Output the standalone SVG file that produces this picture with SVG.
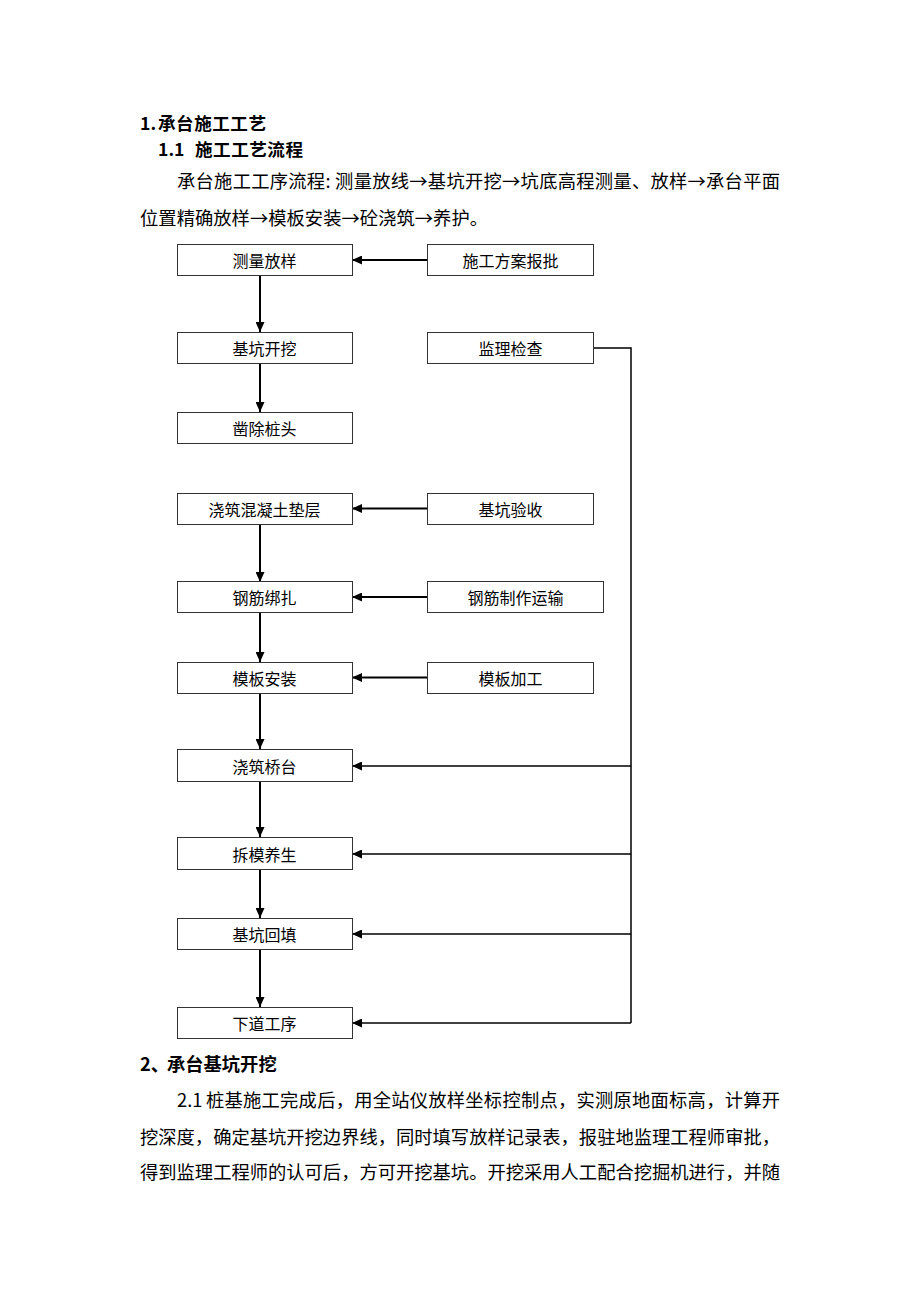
<svg xmlns="http://www.w3.org/2000/svg" width="920" height="1302" viewBox="0 0 920 1302">
<style>
.t{font-family:"Noto Sans CJK SC","Liberation Sans",sans-serif;font-size:18.3px;fill:#000}
.h{font-weight:bold}
.hs{font-size:17.6px}
.box{fill:#fff;stroke:#333;stroke-width:1}
.bt{font-family:"Noto Sans CJK SC","Liberation Sans",sans-serif;font-size:16px;fill:#000;text-anchor:middle;dominant-baseline:central}
.ln{fill:none;stroke:#000;stroke-width:2}
.lt{fill:none;stroke:#000;stroke-width:1.5}
</style>
<defs>
<marker id="ah" markerUnits="userSpaceOnUse" markerWidth="10" markerHeight="9" refX="10" refY="4.5" orient="auto">
<path d="M0,0 L10,4.5 L0,9 z" fill="#000"/>
</marker>
</defs>
<rect width="920" height="1302" fill="#fff"/>
<g id="text">
<text class="t h hs" y="130"><tspan x="140">1.</tspan><tspan x="158" textLength="108" lengthAdjust="spacing">承台施工工艺</tspan></text>
<text class="t h hs" y="156"><tspan x="158">1.1</tspan><tspan x="195" textLength="108" lengthAdjust="spacing">施工工艺流程</tspan></text>
<text class="t" x="177" y="188" textLength="603" lengthAdjust="spacing">承台施工工序流程: 测量放线→基坑开挖→坑底高程测量、放样→承台平面</text>
<text class="t" x="140" y="225" textLength="348" lengthAdjust="spacing">位置精确放样→模板安装→砼浇筑→养护。</text>
<text class="t h" y="1071"><tspan x="140">2、</tspan><tspan x="167">承台基坑开挖</tspan></text>
<text class="t" y="1107"><tspan x="177">2.1</tspan><tspan x="206" textLength="574" lengthAdjust="spacing">桩基施工完成后，用全站仪放样坐标控制点，实测原地面标高，计算开</tspan></text>
<text class="t" x="140" y="1144" textLength="640" lengthAdjust="spacing">挖深度，确定基坑开挖边界线，同时填写放样记录表，报驻地监理工程师审批，</text>
<text class="t" x="140" y="1179" textLength="640" lengthAdjust="spacing">得到监理工程师的认可后，方可开挖基坑。开挖采用人工配合挖掘机进行，并随</text>
</g>
<g id="connectors">
<line class="ln" x1="260" y1="275" x2="260" y2="332" marker-end="url(#ah)"/>
<line class="ln" x1="260" y1="363" x2="260" y2="412" marker-end="url(#ah)"/>
<line class="ln" x1="260" y1="524" x2="260" y2="582" marker-end="url(#ah)"/>
<line class="ln" x1="260" y1="612" x2="260" y2="662" marker-end="url(#ah)"/>
<line class="ln" x1="260" y1="693" x2="260" y2="749" marker-end="url(#ah)"/>
<line class="ln" x1="260" y1="782" x2="260" y2="837" marker-end="url(#ah)"/>
<line class="ln" x1="260" y1="869" x2="260" y2="918" marker-end="url(#ah)"/>
<line class="ln" x1="260" y1="949" x2="260" y2="1007" marker-end="url(#ah)"/>
<line class="ln" x1="427" y1="260" x2="352" y2="260" marker-end="url(#ah)"/>
<line class="ln" x1="427" y1="508.5" x2="352" y2="508.5" marker-end="url(#ah)"/>
<line class="ln" x1="427" y1="597" x2="352" y2="597" marker-end="url(#ah)"/>
<line class="ln" x1="427" y1="677.5" x2="352" y2="677.5" marker-end="url(#ah)"/>
<polyline class="lt" points="593,348 631,348 631,1023"/>
<line class="lt" x1="631" y1="766" x2="352" y2="766" marker-end="url(#ah)"/>
<line class="lt" x1="631" y1="854" x2="352" y2="854" marker-end="url(#ah)"/>
<line class="lt" x1="631" y1="934" x2="352" y2="934" marker-end="url(#ah)"/>
<line class="lt" x1="631" y1="1023" x2="352" y2="1023" marker-end="url(#ah)"/>
</g>
<g id="n1"><rect class="box" x="177.5" y="244.5" width="175" height="31"/><text class="bt" x="264.5" y="260">测量放样</text></g>
<g id="n2"><rect class="box" x="427.5" y="244.5" width="166" height="31"/><text class="bt" x="510.5" y="260">施工方案报批</text></g>
<g id="n3"><rect class="box" x="177.5" y="332.5" width="175" height="31"/><text class="bt" x="264.5" y="348">基坑开挖</text></g>
<g id="n4"><rect class="box" x="427.5" y="332.5" width="166" height="31"/><text class="bt" x="510.5" y="348">监理检查</text></g>
<g id="n5"><rect class="box" x="177.5" y="412.5" width="175" height="31"/><text class="bt" x="264.5" y="428">凿除桩头</text></g>
<g id="n6"><rect class="box" x="177.5" y="493.5" width="175" height="31"/><text class="bt" x="264.5" y="509">浇筑混凝土垫层</text></g>
<g id="n7"><rect class="box" x="427.5" y="493.5" width="166" height="31"/><text class="bt" x="510.5" y="509">基坑验收</text></g>
<g id="n8"><rect class="box" x="177.5" y="581.5" width="175" height="31"/><text class="bt" x="264.5" y="597">钢筋绑扎</text></g>
<g id="n9"><rect class="box" x="427.5" y="581.5" width="176" height="31"/><text class="bt" x="515.5" y="597">钢筋制作运输</text></g>
<g id="n10"><rect class="box" x="177.5" y="662.5" width="175" height="31"/><text class="bt" x="264.5" y="678">模板安装</text></g>
<g id="n11"><rect class="box" x="427.5" y="662.5" width="166" height="31"/><text class="bt" x="510.5" y="678">模板加工</text></g>
<g id="n12"><rect class="box" x="177.5" y="749.5" width="175" height="32"/><text class="bt" x="264.5" y="766">浇筑桥台</text></g>
<g id="n13"><rect class="box" x="177.5" y="837.5" width="175" height="32"/><text class="bt" x="264.5" y="854">拆模养生</text></g>
<g id="n14"><rect class="box" x="177.5" y="918.5" width="175" height="31"/><text class="bt" x="264.5" y="934">基坑回填</text></g>
<g id="n15"><rect class="box" x="177.5" y="1007.5" width="175" height="31"/><text class="bt" x="264.5" y="1023">下道工序</text></g>
</svg>
